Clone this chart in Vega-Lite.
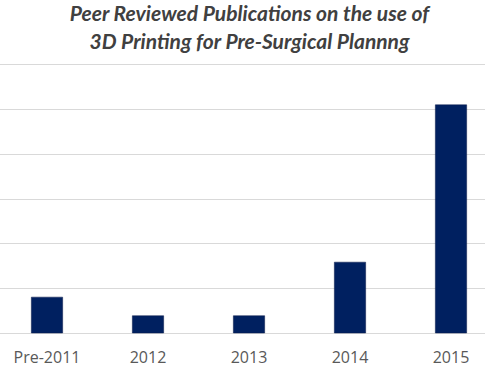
{
  "$schema": "https://vega.github.io/schema/vega-lite/v6.json",
  "width": 485,
  "height": 269,
  "autosize": {"type": "none"},
  "padding": {"top": 64, "left": 0, "right": 0, "bottom": 35},
  "background": "white",
  "config": {"view": {"stroke": null}},
  "title": {
    "text": ["Peer Reviewed Publications on the use of", "3D Printing for Pre-Surgical Plannng"],
    "font": "Lato",
    "fontSize": 21,
    "fontWeight": "bold",
    "fontStyle": "italic",
    "color": "#404040",
    "lineHeight": 28,
    "anchor": "middle",
    "dx": 7,
    "offset": 11
  },
  "data": {
    "values": [
      {"period": "Pre-2011", "count": 8.0},
      {"period": "2012", "count": 3.85},
      {"period": "2013", "count": 3.85},
      {"period": "2014", "count": 15.8},
      {"period": "2015", "count": 50.9}
    ]
  },
  "mark": {"type": "bar", "color": "#002060", "stroke": "#0b1a4a", "strokeWidth": 0.5},
  "encoding": {
    "x": {
      "field": "period",
      "type": "nominal",
      "sort": null,
      "scale": {"range": [-3.5, 501.5], "paddingInner": 0.69, "paddingOuter": 0.345},
      "axis": {
        "title": null,
        "domain": false,
        "ticks": false,
        "labelAngle": 0,
        "labelFont": "Open Sans",
        "labelFontSize": 16,
        "labelColor": "#595959",
        "labelBaseline": "alphabetic",
        "labelPadding": 29
      }
    },
    "y": {
      "field": "count",
      "type": "quantitative",
      "scale": {"domain": [0, 60], "nice": false},
      "axis": {
        "title": null,
        "labels": false,
        "ticks": false,
        "domain": false,
        "values": [0, 10, 20, 30, 40, 50, 60],
        "grid": true,
        "gridColor": "#d9d9d9",
        "gridWidth": 1.2
      }
    }
  }
}
